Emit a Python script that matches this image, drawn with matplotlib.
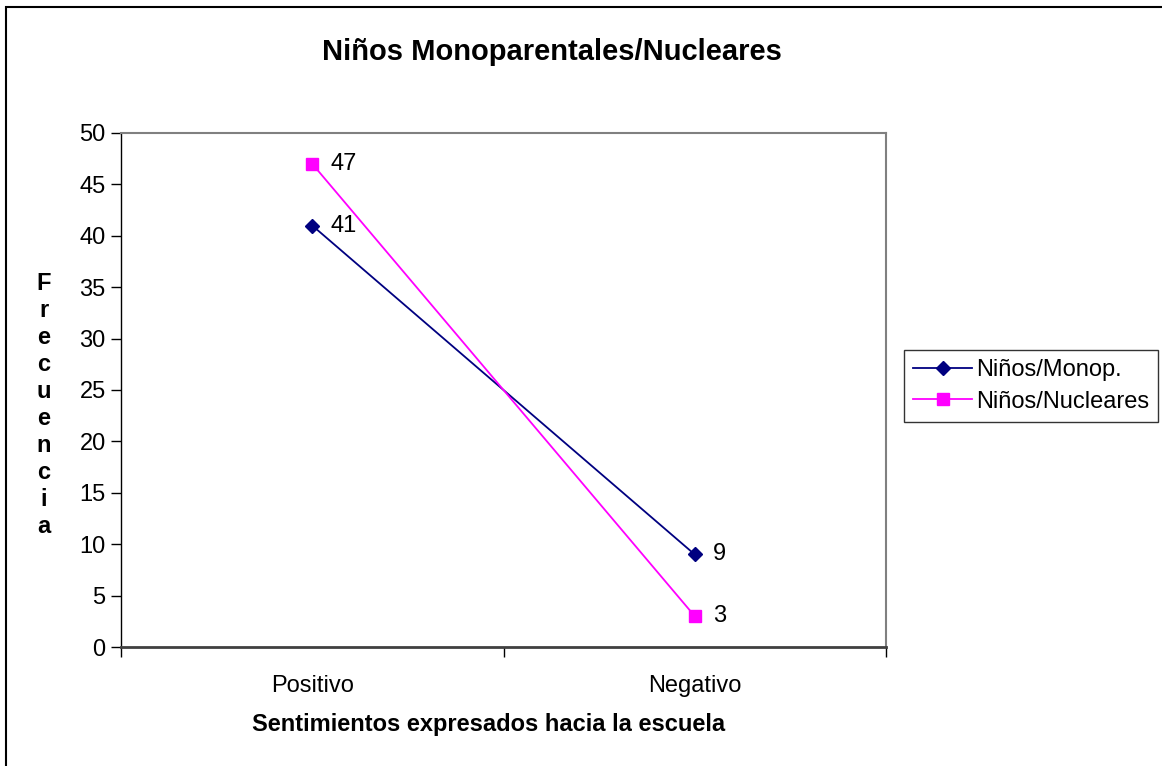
import matplotlib
matplotlib.use("Agg")
import matplotlib.pyplot as plt
from matplotlib.patches import Rectangle

plt.rcParams['font.family'] = ['Liberation Sans', 'DejaVu Sans']

# datos
categorias = ["Positivo", "Negativo"]
monop = [41, 9]
nucleares = [47, 3]
nombres = ["Niños/Monop.", "Niños/Nucleares"]

fig = plt.figure(figsize=(11.62, 7.66), dpi=100)
W, H = 1162, 766

# marco exterior del grafico
fig.patches.append(Rectangle((6 / W, -0.05), 1.2, 1 - 7 / H + 0.05, transform=fig.transFigure,
                             fill=False, edgecolor="black", linewidth=1.5))

ax = fig.add_axes([121 / W, 1 - 647 / H, (886 - 121) / W, (647 - 133) / H])

x = range(len(categorias))
ax.plot(x, monop, color="#000080", marker="D", markersize=7, linewidth=1.3, label=nombres[0])
ax.plot(x, nucleares, color="#FF00FF", marker="s", markersize=8, linewidth=1.3, label=nombres[1])

# etiquetas de datos
for i in x:
    ax.annotate(str(monop[i]), (i, monop[i]), xytext=(13, 0), textcoords="offset points",
                va="center", ha="left", fontsize=17)
    ax.annotate(str(nucleares[i]), (i, nucleares[i]), xytext=(13, 0), textcoords="offset points",
                va="center", ha="left", fontsize=17)

ax.set_xlim(-0.5, 1.5)
ax.set_ylim(0, 50)
ax.set_yticks(range(0, 51, 5))
ax.tick_params(axis="y", labelsize=17, length=7, width=1, direction="out", pad=4)

ax.set_xticks([-0.5, 0.5, 1.5])
ax.set_xticklabels([])
ax.set_xticks([0, 1], minor=True)
ax.set_xticklabels(categorias, minor=True)
ax.tick_params(axis="x", which="major", length=7, width=1, direction="out")
ax.tick_params(axis="x", which="minor", length=0, labelsize=17, pad=20)

ax.spines["left"].set_color("black")
ax.spines["left"].set_linewidth(1)
ax.spines["bottom"].set_color("#404040")
ax.spines["bottom"].set_linewidth(2)
ax.spines["top"].set_color("#808080")
ax.spines["top"].set_linewidth(1.5)
ax.spines["right"].set_color("#808080")
ax.spines["right"].set_linewidth(1.5)

fig.text(552 / W, 1 - 52 / H, "Niños Monoparentales/Nucleares", ha="center", va="center",
         fontsize=21, fontweight="bold")
fig.text(489 / W, 1 - 724 / H, "Sentimientos expresados hacia la escuela", ha="center", va="center",
         fontsize=17, fontweight="bold")
fig.text(44 / W, 1 - 405 / H, "\n".join("Frecuencia"), ha="center", va="center",
         fontsize=17, fontweight="bold", linespacing=1.22)

leg = fig.legend(loc="center", bbox_to_anchor=(1031 / W, 1 - 386 / H), fontsize=17,
                 frameon=True, fancybox=False, edgecolor="black", handlelength=2.5,
                 handletextpad=0.15, borderpad=0.4, labelspacing=0.4)
leg.get_frame().set_linewidth(1)

fig.savefig("out.png", dpi=100)
